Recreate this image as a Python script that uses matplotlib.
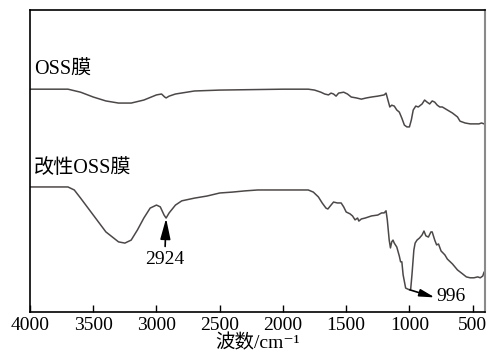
import numpy as np
import matplotlib
matplotlib.use("Agg")
import matplotlib.pyplot as plt

plt.rcParams["font.family"] = ["Liberation Serif", "Noto Sans CJK SC", "DejaVu Sans"]

# ---------------------------------------------------------------------------
# Datos leídos del espectro (número de onda en cm-1, transmitancia arbitraria)
# ---------------------------------------------------------------------------
oss_wn = [4000, 3700, 3600, 3500, 3400, 3300, 3200, 3100, 3000, 2960, 2935, 2924,
          2900, 2850, 2700, 2500, 2000, 1800, 1750, 1700, 1670, 1640, 1620, 1600,
          1580, 1560, 1520, 1490, 1460, 1420, 1380, 1340, 1300, 1250, 1200, 1185,
          1170, 1155, 1140, 1120, 1100, 1080, 1060, 1040, 1020, 1000, 985, 970,
          950, 930, 900, 880, 860, 840, 820, 800, 780, 760, 740, 700, 660, 620,
          600, 560, 520, 480, 450, 430, 410, 400]
oss_t = [73.8, 73.8, 72.8, 71.2, 69.9, 69.2, 69.2, 70.2, 71.9, 72.2, 71.2, 70.9,
         71.5, 72.2, 73.2, 73.5, 73.8, 73.8, 73.5, 72.8, 72.2, 71.9, 72.5, 72.2,
         71.5, 72.5, 72.8, 72.2, 71.2, 70.9, 70.5, 70.9, 71.2, 71.5, 71.9, 72.5,
         70.2, 67.9, 68.5, 68.2, 66.9, 66.2, 64.2, 61.9, 61.3, 61.3, 63.6, 66.9,
         68.2, 67.9, 68.9, 70.2, 69.5, 68.9, 69.9, 69.5, 68.5, 67.9, 67.9, 66.9,
         65.9, 64.6, 63.2, 62.6, 62.3, 62.3, 62.3, 62.6, 62.3, 62.3]

mod_wn = [4000, 3700, 3650, 3600, 3500, 3400, 3300, 3250, 3200, 3150, 3100, 3050,
          3000, 2970, 2940, 2924, 2900, 2850, 2800, 2700, 2600, 2500, 2400, 2300,
          2200, 2000, 1800, 1760, 1720, 1690, 1660, 1645, 1620, 1600, 1570, 1540,
          1520, 1500, 1470, 1450, 1430, 1410, 1400, 1380, 1350, 1300, 1250, 1220,
          1200, 1185, 1175, 1160, 1150, 1140, 1130, 1120, 1100, 1080, 1070, 1060,
          1050, 1030, 1000, 990, 980, 965, 955, 940, 920, 900, 885, 870, 850, 830,
          820, 800, 785, 770, 750, 720, 700, 660, 620, 580, 550, 520, 490, 460,
          440, 420, 410, 400]
mod_t = [41.4, 41.4, 40.4, 37.7, 32.1, 26.5, 23.2, 22.8, 23.8, 27.2, 31.1, 34.4,
         35.4, 34.8, 32.1, 31.1, 32.8, 35.4, 36.8, 37.7, 38.4, 39.4, 39.7, 40.1,
         40.4, 40.4, 40.4, 39.7, 38.1, 36.1, 34.4, 34.1, 35.4, 36.4, 36.1, 36.1,
         34.8, 33.1, 32.5, 31.8, 30.5, 31.1, 30.1, 30.8, 31.1, 31.8, 32.1, 32.8,
         32.8, 33.5, 30.5, 23.8, 21.2, 23.2, 23.8, 22.8, 21.5, 18.5, 16.6, 16.6,
         12.3, 7.9, 7.3, 7.6, 12.3, 20.5, 22.8, 23.8, 24.5, 25.5, 26.8, 25.2,
         24.8, 26.5, 26.5, 23.8, 22.2, 22.5, 20.2, 18.9, 17.5, 15.9, 13.9, 12.6,
         11.6, 11.3, 11.3, 11.6, 11.3, 11.9, 13.2, 12.6]

color_linea = "#4d4848"

fig = plt.figure(figsize=(4.88, 3.61), dpi=100)
ax = fig.add_axes([0.0615, 0.136, 0.933, 0.836])

ax.plot(oss_wn, oss_t, color=color_linea, lw=1.1)
ax.plot(mod_wn, mod_t, color=color_linea, lw=1.1)

ax.set_xlim(4000, 400)
ax.set_ylim(0, 100)
ax.set_xticks([4000, 3500, 3000, 2500, 2000, 1500, 1000, 500])
ax.set_yticks([])
ax.tick_params(axis="x", direction="in", length=5, width=1, labelsize=14, pad=4)
for s in ["left", "bottom", "top"]:
    ax.spines[s].set_linewidth(1.2)
ax.spines["right"].set_color("#8a8a8a")
ax.spines["right"].set_linewidth(1.5)

ax.set_xlabel("波数/cm⁻¹", fontsize=14, labelpad=0)

ax.text(3970, 77, "OSS膜", fontsize=14.5, va="bottom", ha="left")
ax.text(3970, 44.5, "改性OSS膜", fontsize=14.5, va="bottom", ha="left")

flecha = dict(arrowstyle="-|>,head_length=0.9,head_width=0.22", color="black",
              lw=1.2, shrinkA=1, shrinkB=0)
ax.annotate("2924", xy=(2924, 31.0), xytext=(2935, 17.5), fontsize=14,
            ha="center", va="center", arrowprops=flecha)
ax.annotate("", xy=(800, 4.8), xytext=(996, 7.3),
            arrowprops=dict(flecha, shrinkA=0))
ax.text(790, 5.0, "996", fontsize=14, ha="left", va="center")

fig.savefig("out.png", dpi=100)
